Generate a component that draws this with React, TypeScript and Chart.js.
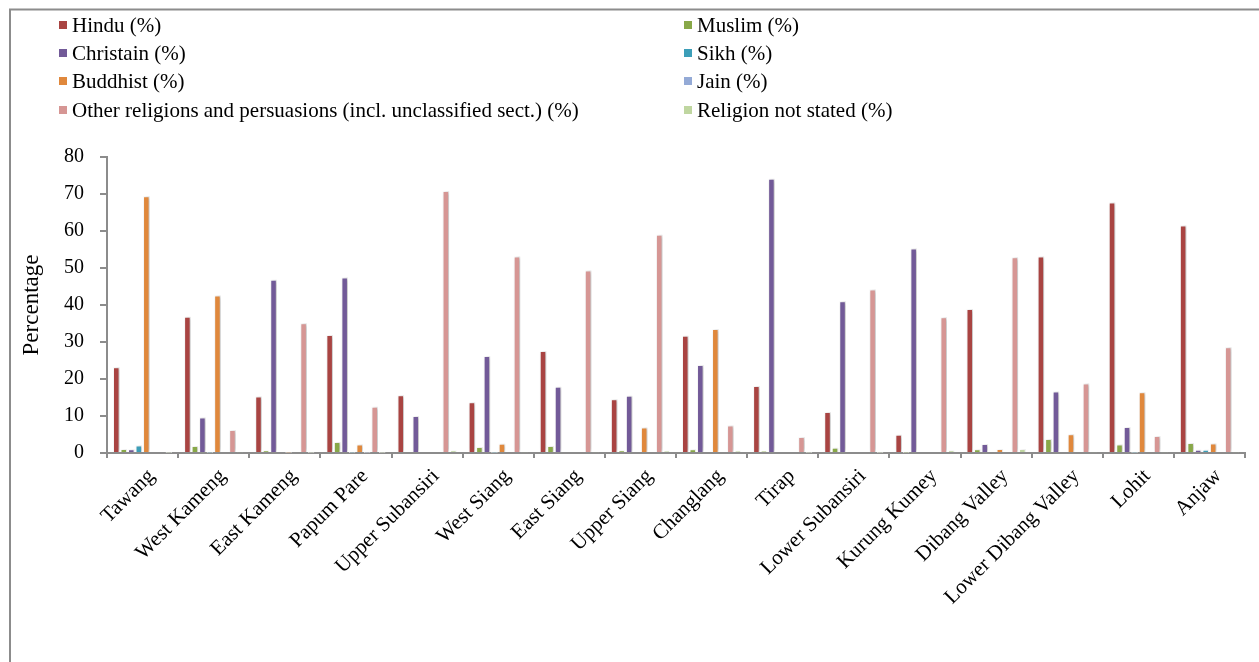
import { useEffect, useRef } from "react";
import { Chart, registerables } from "chart.js";

Chart.register(...registerables);

// Districts of Arunachal Pradesh
const districts = [
  "Tawang",
  "West Kameng",
  "East Kameng",
  "Papum Pare",
  "Upper Subansiri",
  "West Siang",
  "East Siang",
  "Upper Siang",
  "Changlang",
  "Tirap",
  "Lower Subansiri",
  "Kurung Kumey",
  "Dibang Valley",
  "Lower Dibang Valley",
  "Lohit",
  "Anjaw",
];

// Share of population by religion (%)
const hindu = [23.2, 36.8, 15.3, 31.9, 15.6, 13.7, 27.6, 14.5, 31.7, 18.1, 11.1, 4.9, 38.9, 53.1, 67.7, 61.5];
const muslim = [1.1, 1.9, 0.7, 3.0, 0.3, 1.6, 1.9, 0.7, 1.0, 0.5, 1.4, 0.1, 1.0, 3.8, 2.3, 2.7];
const christian = [1.0, 9.6, 46.8, 47.4, 10.0, 26.2, 17.9, 15.5, 23.8, 74.1, 41.0, 55.3, 2.4, 16.6, 7.0, 0.9];
const sikh = [2.0, 0.1, 0, 0.1, 0, 0.1, 0, 0, 0, 0, 0, 0, 0, 0, 0.1, 0.9];
const buddhist = [69.4, 42.6, 0.1, 2.3, 0, 2.5, 0.3, 6.9, 33.5, 0, 0, 0, 1.1, 5.1, 16.4, 2.6];
const jain = [0, 0, 0, 0.1, 0, 0, 0, 0, 0, 0, 0, 0, 0, 0, 0, 0];
const otherReligions = [0, 6.2, 35.1, 12.5, 70.8, 53.1, 49.3, 59.0, 7.4, 4.3, 44.2, 36.7, 52.9, 18.8, 4.6, 28.6];
const notStated = [0.1, 0.2, 0.1, 0.1, 0.7, 0.2, 0.2, 0.6, 0.6, 0.1, 0.1, 0.7, 1.1, 0.2, 0.2, 0.2];

const yTicks = [0, 10, 20, 30, 40, 50, 60, 70, 80];

const series = [
  { label: "Hindu (%)", data: hindu, color: "#A94442" },
  { label: "Muslim (%)", data: muslim, color: "#88A848" },
  { label: "Christain (%)", data: christian, color: "#725A98" },
  { label: "Sikh (%)", data: sikh, color: "#3C9EB8" },
  { label: "Buddhist (%)", data: buddhist, color: "#E0883C" },
  { label: "Jain (%)", data: jain, color: "#94AAD6" },
  { label: "Other religions and persuasions (incl. unclassified sect.) (%)", data: otherReligions, color: "#D69694" },
  { label: "Religion not stated (%)", data: notStated, color: "#BFD6A0" },
];

const SERIF = "'Liberation Serif', 'Times New Roman', serif";

// Grey frame along the top and left edges
const framePlugin = {
  id: "frame",
  beforeDraw(chart: any) {
    const { ctx, width, height } = chart;
    ctx.save();
    ctx.strokeStyle = "#8c8c8c";
    ctx.lineWidth = 2;
    ctx.beginPath();
    ctx.moveTo(10, height);
    ctx.lineTo(10, 9.5);
    ctx.lineTo(width, 9.5);
    ctx.stroke();
    ctx.restore();
  },
};

// Soft drop shadow behind the bars
const shadowPlugin = {
  id: "barShadow",
  beforeDatasetsDraw(chart: any) {
    const ctx = chart.ctx;
    ctx.save();
    ctx.shadowColor = "rgba(0,0,0,0.3)";
    ctx.shadowBlur = 4;
    ctx.shadowOffsetX = 2;
    ctx.shadowOffsetY = 0;
  },
  afterDatasetsDraw(chart: any) {
    chart.ctx.restore();
  },
};

// Two-column legend at the top
const legendPlugin = {
  id: "twoColumnLegend",
  afterDraw(chart: any) {
    const { ctx } = chart;
    const colX = [59, 684];
    const rowY = [25, 53, 81, 110];
    ctx.save();
    ctx.font = `21px ${SERIF}`;
    ctx.textBaseline = "middle";
    ctx.textAlign = "left";
    chart.data.datasets.forEach((ds: any, i: number) => {
      const x = colX[i % 2];
      const y = rowY[Math.floor(i / 2)];
      ctx.fillStyle = ds.backgroundColor;
      ctx.fillRect(x, y - 4, 8, 8);
      ctx.fillStyle = "#000";
      ctx.fillText(ds.label, x + 13, y + 1);
    });
    ctx.restore();
  },
};

export default function App() {
  const canvasRef = useRef<HTMLCanvasElement | null>(null);

  useEffect(() => {
    if (!canvasRef.current) return;
    const chart = new Chart(canvasRef.current, {
      type: "bar",
      data: {
        labels: districts,
        datasets: series.map((s) => ({
          label: s.label,
          data: s.data,
          backgroundColor: s.color,
          borderColor: "#ffffff",
          borderWidth: 1,
          borderSkipped: "start",
          barPercentage: 0.87,
          categoryPercentage: 0.845,
        })),
      },
      options: {
        animation: false,
        responsive: false,
        maintainAspectRatio: false,
        layout: { padding: { top: 157, right: 14, left: 0, bottom: 0 } },
        plugins: {
          legend: { display: false },
          tooltip: { enabled: false },
        },
        scales: {
          x: {
            offset: true,
            grid: {
              offset: true,
              drawOnChartArea: false,
              drawTicks: true,
              tickLength: 5,
              color: "#8c8c8c",
              lineWidth: 2,
            },
            border: { display: true, color: "#8c8c8c", width: 2 },
            ticks: {
              color: "#000",
              font: { family: SERIF, size: 21 },
              minRotation: 45,
              maxRotation: 45,
              autoSkip: false,
              padding: 6,
              labelOffset: 9,
            },
            afterFit(scale: any) {
              scale.height = 209;
            },
          },
          y: {
            min: 0,
            max: 80,
            afterBuildTicks(scale: any) {
              scale.ticks = yTicks.map((v) => ({ value: v }));
            },
            grid: {
              drawOnChartArea: false,
              drawTicks: true,
              tickLength: 7,
              color: "#8c8c8c",
              lineWidth: 2,
            },
            border: { display: true, color: "#8c8c8c", width: 2 },
            ticks: {
              color: "#000",
              font: { family: SERIF, size: 20 },
              padding: 16,
            },
            title: {
              display: true,
              text: "Percentage",
              color: "#000",
              font: { family: SERIF, size: 23 },
              padding: { top: 18, bottom: 0 },
            },
            afterFit(scale: any) {
              scale.width = 107;
            },
          },
        },
      },
      plugins: [framePlugin, shadowPlugin, legendPlugin],
    });
    return () => chart.destroy();
  }, []);

  return (
    <div style={{ position: "fixed", left: 0, top: 0, width: 1259, height: 662, background: "#fff" }}>
      <canvas ref={canvasRef} width={1259} height={662} />
    </div>
  );
}
